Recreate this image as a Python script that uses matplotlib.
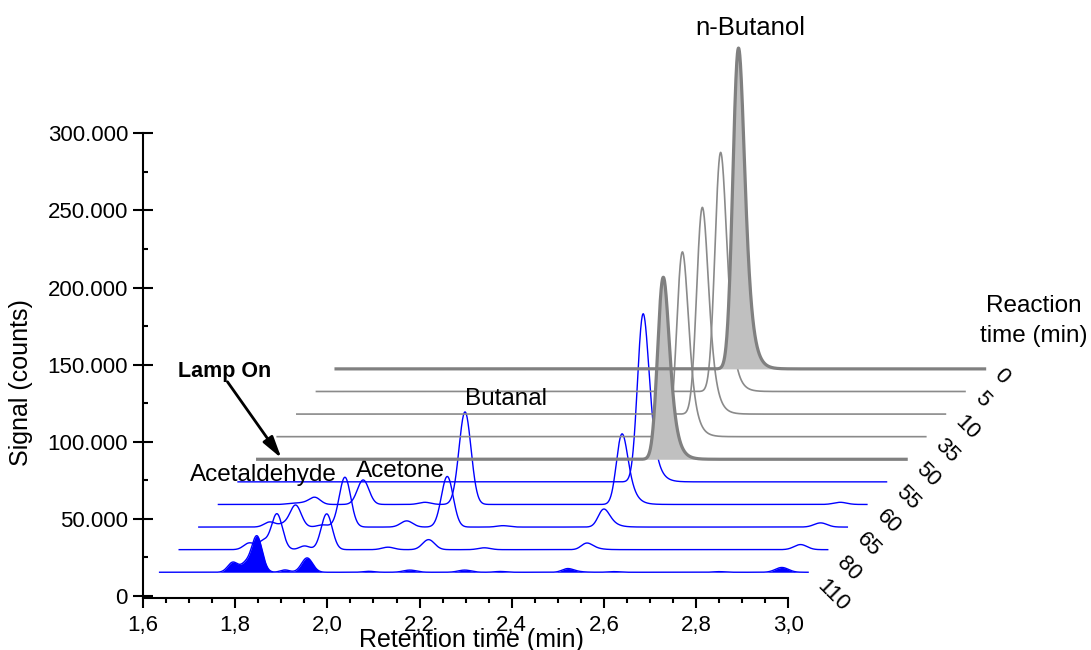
import math
import numpy as np
import matplotlib
matplotlib.use("Agg")
import matplotlib.pyplot as plt
from matplotlib.ticker import MultipleLocator, FuncFormatter

plt.rcParams['font.family'] = ['Liberation Sans', 'DejaVu Sans']

# reaction time of each chromatogram, front trace first
reaction_times = ['110', '80', '65', '60', '55', '50', '35', '10', '5', '0']

# recorded retention time window (min)
t_start, t_end = 1.636, 3.043

# peaks of the minor products: (retention time min, height counts, sigma min)
peaks_110 = [(1.795, 6500, 0.011), (1.822, 5000, 0.010), (1.847, 23500, 0.0115),
             (1.908, 1500, 0.010), (1.956, 9300, 0.012), (2.090, 600, 0.012),
             (2.179, 1400, 0.014), (2.298, 1400, 0.014), (2.375, 500, 0.012),
             (2.622, 400, 0.012), (2.850, 400, 0.012), (2.986, 3100, 0.014)]
peaks_80 = [(1.788, 4300, 0.012), (1.818, 5200, 0.011), (1.848, 23200, 0.012),
            (1.908, 2400, 0.011), (1.956, 23200, 0.012), (2.089, 1600, 0.013),
            (2.177, 6500, 0.013), (2.298, 1200, 0.013), (2.984, 3300, 0.014)]
peaks_65 = [(1.790, 3300, 0.012), (1.820, 1800, 0.011), (1.846, 14200, 0.012),
            (1.905, 1400, 0.012), (1.953, 32300, 0.0125), (2.087, 4000, 0.013),
            (2.175, 32800, 0.0128), (2.296, 900, 0.013), (2.985, 2700, 0.014)]
peaks_60 = [(1.795, 700, 0.012), (1.820, 1000, 0.012), (1.845, 4600, 0.012),
            (1.950, 15900, 0.0125), (2.084, 1400, 0.013), (2.171, 60000, 0.013),
            (2.985, 1400, 0.014)]
peaks_55 = []
peaks_50 = []
peaks_35 = []
peaks_10 = []
peaks_5 = []
peaks_0 = []
minor_peaks = [peaks_110, peaks_80, peaks_65, peaks_60, peaks_55,
               peaks_50, peaks_35, peaks_10, peaks_5, peaks_0]

# n-butanol peak (tailing) in each chromatogram
butanol_rt = [2.522, 2.521, 2.515, 2.512, 2.515, 2.516, 2.515, 2.5156, 2.513, 2.509]
butanol_height = [2400, 4300, 11700, 45800, 109000, 118000, 119800, 134000, 155000, 208000]

# waterfall offsets
dx, dy, y_base = 0.04254, 14650, 15400

erfc = np.vectorize(math.erfc)


def emg(t, rt, h, sigma, tau):
    def shape(mu):
        z = (sigma / tau - (t - mu) / sigma) / np.sqrt(2)
        return np.exp(0.5 * (sigma / tau) ** 2 - (t - mu) / tau) * erfc(z)
    y = shape(rt)
    y = shape(rt - (t[np.argmax(y)] - rt))
    return h * y / y.max()


def gauss(t, rt, h, sigma):
    return h * np.exp(-0.5 * ((t - rt) / sigma) ** 2)


t = np.linspace(t_start, t_end, 3000)

fig = plt.figure(figsize=(10.91, 6.5), dpi=100)
ax = fig.add_axes([143.0 / 1091, 52 / 650, 645.3 / 1091, 464.7 / 650])

for k, label in enumerate(reaction_times):
    sig = emg(t, butanol_rt[k], butanol_height[k], 0.0105, 0.0115)
    for rt, h, s in minor_peaks[k]:
        sig = sig + gauss(t, rt, h, s)
    x = t + k * dx
    base = y_base + k * dy
    y = sig + base
    if k <= 4:
        color, lw = '#0000ff', 1.0
    elif k in (5, 9):
        color, lw = '#808080', 2.3
    else:
        color, lw = '#8a8a8a', 1.2
    if k == 0:
        ax.fill_between(x, base, y, color='#0000ff', lw=0, zorder=3, clip_on=False)
        ax.plot(x, y, color=color, lw=lw, zorder=3.5, clip_on=False)
    elif k in (5, 9):
        ax.fill_between(x, base, y, color='#c0c0c0', lw=0, zorder=3 + k * 0.01, clip_on=False)
        ax.plot(x, y, color=color, lw=lw, zorder=3.5 + k * 0.01, clip_on=False)
    else:
        ax.plot(x, y, color=color, lw=lw, zorder=2, clip_on=False)
    ax.annotate(label, xy=(t_end + k * dx, base),
                xytext=(12.5 * 0.72, -(11.3 - 0.9 * k) * 0.72), textcoords='offset points',
                rotation=-45, rotation_mode='anchor', ha='left', va='center',
                fontsize=16, annotation_clip=False)

ax.set_xlim(1.6, 3.0)
ax.set_ylim(-1300, 300000)
ax.spines['top'].set_visible(False)
ax.spines['right'].set_visible(False)
for s in ('left', 'bottom'):
    ax.spines[s].set_linewidth(1.5)
ax.xaxis.set_major_locator(MultipleLocator(0.2))
ax.xaxis.set_minor_locator(MultipleLocator(0.05))
ax.yaxis.set_major_locator(MultipleLocator(50000))
ax.yaxis.set_minor_locator(MultipleLocator(25000))
ax.xaxis.set_major_formatter(FuncFormatter(lambda v, p: f"{v:.1f}".replace('.', ',')))
ax.yaxis.set_major_formatter(FuncFormatter(lambda v, p: f"{int(round(v)):,}".replace(',', '.')))
ax.tick_params(axis='x', which='major', direction='out', length=7, width=1.5, labelsize=16, pad=5)
ax.tick_params(axis='x', which='minor', direction='out', length=3.6, width=1.5)
ax.tick_params(axis='y', which='major', direction='inout', length=14, width=1.5, labelsize=16, pad=3.8)
ax.tick_params(axis='y', which='minor', direction='in', length=3.6, width=1.5)

ax.set_xlabel('Retention time (min)', fontsize=18)
ax.xaxis.set_label_coords(0.509, -0.0652)
ax.set_ylabel('Signal (counts)', fontsize=18)
ax.yaxis.set_label_coords(-0.1705, 0.4627)

ax.text(1.7029, 74400, 'Acetaldehyde', fontsize=17.5, va='baseline')
ax.text(2.0617, 77200, 'Acetone', fontsize=17.5, va='baseline')
ax.text(2.2983, 123800, 'Butanal', fontsize=17.5, va='baseline')
ax.text(2.7975, 363700, 'n-Butanol', fontsize=18.5, va='baseline')
ax.text(3.5316, 184300, 'Reaction', fontsize=17.5, va='baseline', ha='center')
ax.text(3.5316, 164900, 'time (min)', fontsize=17.5, va='baseline', ha='center')

ax.text(1.6759, 142200, 'Lamp On', fontsize=15.5, fontweight='bold', va='baseline')
ax.annotate('', xy=(1.9004, 89300), xytext=(1.7832, 138900),
            arrowprops=dict(arrowstyle='-|>,head_length=1.3,head_width=0.35',
                            color='black', lw=2, shrinkA=0, shrinkB=0),
            annotation_clip=False)

fig.savefig('out.png', dpi=100)
